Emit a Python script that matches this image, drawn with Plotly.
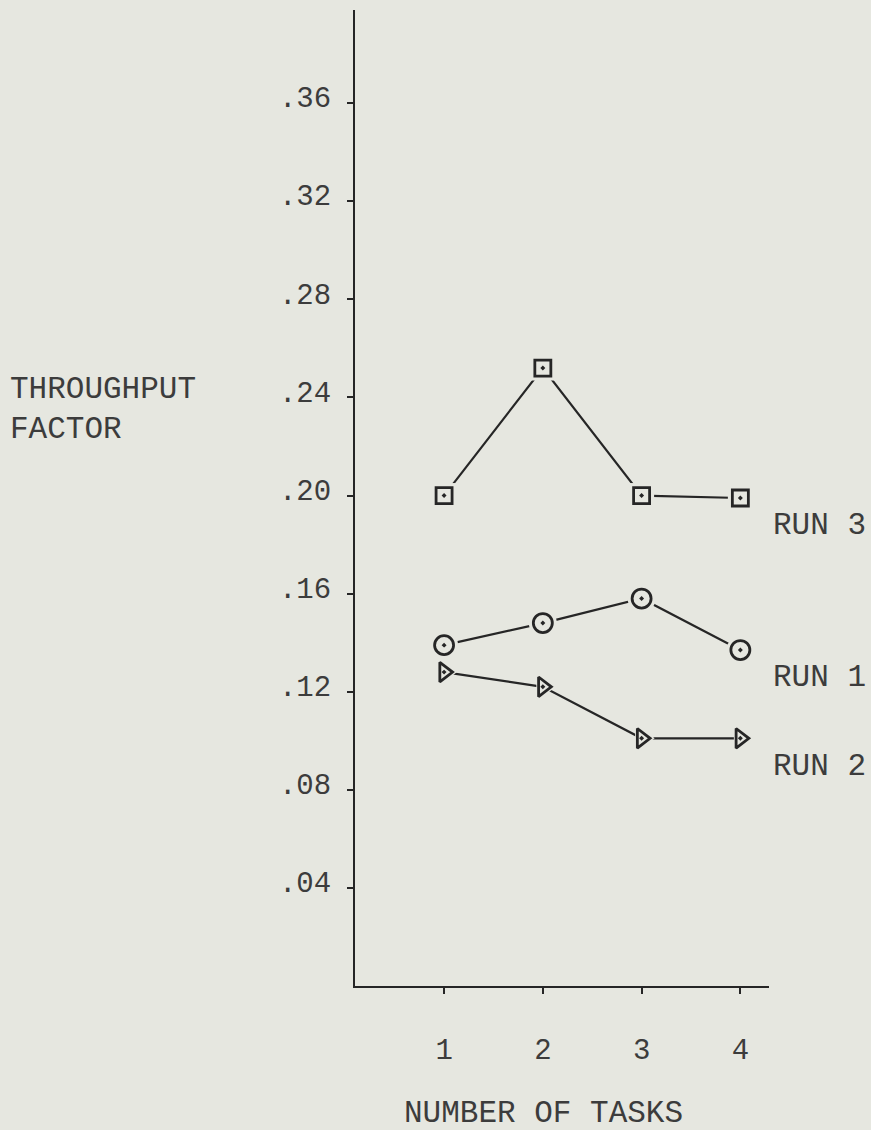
import plotly.graph_objects as go

# ---- data ----
tasks = [1, 2, 3, 4]
run3 = [0.200, 0.252, 0.200, 0.199]
run1 = [0.139, 0.148, 0.158, 0.137]
run2 = [0.128, 0.122, 0.101, 0.101]
ytick_vals = [0.04, 0.08, 0.12, 0.16, 0.20, 0.24, 0.28, 0.32, 0.36]
ytick_text = [".04", ".08", ".12", ".16", ".20", ".24", ".28", ".32", ".36"]
xtick_text = ["1", "2", "3", "4"]
series_names = ["RUN 3", "RUN 1", "RUN 2"]

BG = "#e6e7e0"
INK = "#262626"
TXT = "#3c3c3c"
FONT = "Liberation Mono"

W, H = 871, 1130
L, R, T, B = 355, 102, 10, 144

fig = go.Figure()

series = [
    (run3, "square", 16),
    (run1, "circle", 19),
    (run2, "triangle-right", 17),
]

# lines
for ys, sym, sz in series:
    fig.add_trace(go.Scatter(x=tasks, y=ys, mode="lines",
                             line=dict(color=INK, width=2.2),
                             hoverinfo="skip", showlegend=False))
# background pads so lines stop short of markers
for ys, sym, sz in series:
    fig.add_trace(go.Scatter(x=tasks, y=ys, mode="markers",
                             marker=dict(symbol=sym, size=sz + 9, color=BG,
                                         line=dict(width=0)),
                             hoverinfo="skip", showlegend=False))
# markers
for ys, sym, sz in series:
    fig.add_trace(go.Scatter(x=tasks, y=ys, mode="markers",
                             marker=dict(symbol=sym + "-open-dot", size=sz,
                                         color=INK, line=dict(width=2.8)),
                             showlegend=False))

fig.update_xaxes(range=[0.098, 4.29], showline=True, linecolor=INK, linewidth=2.2,
                 showgrid=False, zeroline=False, tickmode="array",
                 tickvals=tasks, ticktext=xtick_text, ticks="outside",
                 ticklen=6, tickwidth=2, tickcolor=INK, ticklabelstandoff=30,
                 tickfont=dict(family=FONT, size=29, color=TXT))
fig.update_yaxes(range=[0, 0.398], showline=True, linecolor=INK, linewidth=2.2,
                 showgrid=False, zeroline=False, tickmode="array",
                 tickvals=ytick_vals, ticktext=ytick_text, ticks="outside",
                 ticklen=6, tickwidth=2, tickcolor=INK, ticklabelstandoff=10,
                 ticklabelshift=-6,
                 tickfont=dict(family=FONT, size=29, color=TXT))

def px_x(p):
    return (p - L) / (W - L - R)

def px_y(p):
    return (H - B - p) / (H - T - B)

annos = [
    dict(text="THROUGHPUT<br>FACTOR", x=px_x(8), y=px_y(409), xanchor="left",
         yanchor="middle", align="left"),
    dict(text="NUMBER OF TASKS", x=px_x(543), y=px_y(1113), xanchor="center",
         yanchor="middle"),
]
run_label_y = [525, 678, 766]
for name, py in zip(series_names, run_label_y):
    annos.append(dict(text=name, x=px_x(771), y=px_y(py), xanchor="left",
                      yanchor="middle"))
for a in annos:
    fig.add_annotation(xref="paper", yref="paper", showarrow=False,
                       font=dict(family=FONT, size=31, color=TXT), **a)

fig.update_layout(width=W, height=H, margin=dict(l=L, r=R, t=T, b=B),
                  paper_bgcolor=BG, plot_bgcolor=BG, showlegend=False)

fig.write_html("out.html", config={"displayModeBar": False},
               post_script="document.body.style.margin='0';"
                           "document.body.style.overflow='hidden';")
